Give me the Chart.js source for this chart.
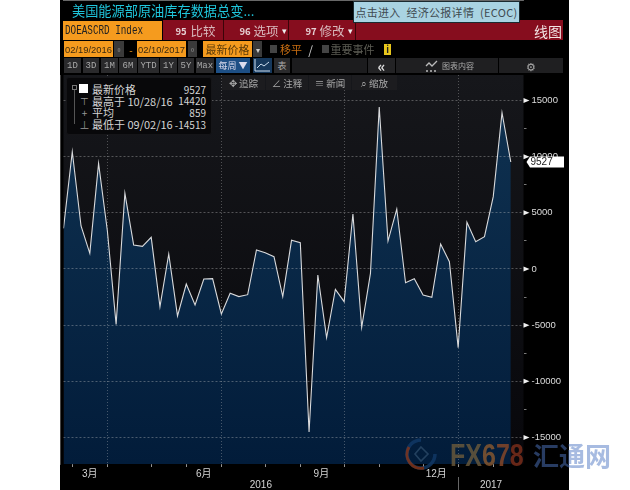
<!DOCTYPE html>
<html>
<head>
<meta charset="utf-8">
<title>DOEASCRD Index</title>
<script src="https://cdn.jsdelivr.net/npm/chart.js@4"></script>
<style>
  html, body { margin: 0; padding: 0; background: #fff; overflow: hidden; }
  #page { position: relative; width: 630px; height: 490px; overflow: hidden; font-family: "Noto Sans CJK SC", "Liberation Sans", sans-serif; }
  #frame { position: absolute; left: 60px; top: 0; width: 509px; height: 490px; background: #000; }
  .b { position: absolute; white-space: nowrap; box-sizing: border-box; display: flex; align-items: center; justify-content: center; }
  .mark { position: absolute; font-weight: bold; font-family: "Liberation Sans", sans-serif; white-space: nowrap; }
</style>
</head>
<body>
<div id="page">
  <div id="frame"></div>
  <canvas id="chart" width="509" height="490" style="position:absolute;left:60px;top:0"></canvas>
  <div id="chrome"></div>
  <svg style="position:absolute;left:404px;top:436px;opacity:.8" width="36" height="36" viewBox="0 0 36 36">
    <path d="M31 18a14 14 0 1 1-14-14" fill="none" stroke="#123a68" stroke-width="3.5"/>
    <path d="M5 11a14 14 0 0 0 15 21" fill="none" stroke="#8a3a20" stroke-width="3"/>
    <path d="M17 11l7 7-7 7-6-7z" fill="none" stroke="#2c4a68" stroke-width="1.6"/>
  </svg>
  <div class="mark" style="left:450px;top:437px;font-size:25px;opacity:.8;transform:scaleY(1.25);transform-origin:top left">
    <span style="color:#6d5c3c">F</span><span style="color:#6d5c3c">X</span><span style="color:#8c5a30">6</span><span style="color:#8c4a28">7</span><span style="color:#80301c">8</span>
  </div>
  <div class="mark" style="left:533px;top:436px;font-size:26px;color:rgba(80,120,195,.5);font-family:'Noto Sans CJK SC'">汇通网</div>
</div>
<script>
// Weekly change, 02/19/2016 to 02/10/2017
const weeklyChange = [
  3620, 10445, 3830, 1395, 9400, 3400, -4930, 6740, 2135, 2020,
  2820, -3350, 1335, -4180, -1335, -3205, -890, -860, -4006, -2165,
  -2460, -2285, 1690, 1450, 1100, -2460, 2555, 2340, -14513, -534,
  -6110, -1810, -2910, 4896, -5190, -385, 14420, 2490, 5340, -1220,
  -860, -2315, -2520, 2225, 650, -7000, 4155, 2430, 2875, 6440,
  13910, 9527
];
const yMajor = [15000, 10000, 5000, 0, -5000, -10000, -15000];
const yMinor = [12500, 7500, 2500, -2500, -7500, -12500];
const monthWeeks = [1, 5, 10, 14, 18, 23, 27, 32, 36, 41, 45, 49];
const quarterWeeks = [5, 18, 32, 45];
const monthLabels = { 3: '3月', 16: '6月', 29.4: '9月', 42.5: '12月' };
const yearLabels = { 22.5: '2016', 48.75: '2017' };
const legendRows = [
  ['最新价格', '9527'],
  ['最高于 10/28/16', '14420'],
  ['平均', '859'],
  ['最低于 09/02/16', '-14513']
];

const chrome = document.getElementById('chrome');
function box(x, y, w, h, bg, text, css) {
  const d = document.createElement('div');
  d.className = 'b';
  d.style.cssText = `left:${x}px;top:${y}px;width:${w}px;height:${h}px;background:${bg};font-size:10px;color:#ccc;` + (css || '');
  d.textContent = text || '';
  chrome.appendChild(d);
  return d;
}

// terminal toolbar rows
box(72, 0, 190, 20, 'transparent', '美国能源部原油库存数据总变...', 'font-size:13.2px;color:#1fc6dc;justify-content:flex-start;font-family:"Noto Sans CJK SC"');
box(163, 20, 400, 20, '#860d1e', '');
box(63, 21, 99, 19, '#f59b1e', '');
box(65, 21, 90, 19, 'transparent', 'DOEASCRD Index', 'color:#222;font-family:"Liberation Mono",monospace;font-size:9.3px;justify-content:flex-start;transform:scaleY(1.3)');
[[175, '95', 190, '比较', 223, ''], [239, '96', 253, '选项', 288, '▾'], [305, '97', 319, '修改', 355, '▾']].forEach(m => {
  box(m[0], 21, 12, 19, 'transparent', m[1], 'font-size:9.5px;font-weight:bold;color:#e6d0d4');
  box(m[2], 21, 26, 19, 'transparent', m[3], 'font-size:12.5px;color:#d8b8bc');
  if (m[5]) box(m[2] + 27, 21, 8, 19, 'transparent', m[5], 'font-size:9px;color:#eee');
  box(m[4], 20, 1, 20, '#3a0408', '');
});
box(533, 21, 30, 19, 'transparent', '线图', 'font-size:14px;color:#f2e4e4');

box(64, 41, 49, 16, '#f59b1e', '02/19/2016', 'color:#3a2a10;font-size:9.4px;font-family:"Liberation Sans"');
box(114, 41, 10, 16, '#3a3a3a', '▫', 'font-size:8px');
box(126, 41, 10, 16, 'transparent', '-', 'color:#f59b1e');
box(137, 41, 49, 16, '#f59b1e', '02/10/2017', 'color:#3a2a10;font-size:9.4px;font-family:"Liberation Sans"');
box(188, 41, 9, 16, '#3a3a3a', '▫', 'font-size:8px');
box(203, 41, 49, 16, '#f59b1e', '最新价格', 'color:#5a3a08;font-size:11px');
box(253, 41, 9, 16, '#3a3a3a', '▾', 'font-size:8px');
box(270, 45, 7, 8, '#444', '');
box(279, 41, 24, 16, 'transparent', '移平', 'color:#c96e12;font-size:11px');
box(306, 41, 9, 16, 'transparent', '/', 'color:#ccc;font-size:12px');
box(322, 45, 7, 8, '#444', '');
box(330, 41, 45, 16, 'transparent', '重要事件', 'color:#5c5c54;font-size:11px');
box(384, 44, 7, 11, '#e8c61c', 'i', 'color:#222;font-size:9px;font-weight:bold');

const ranges = [['1D', 64, 17], ['3D', 83, 16], ['1M', 101, 17], ['6M', 119, 18], ['YTD', 138, 21], ['1Y', 160, 17], ['5Y', 178, 16], ['Max', 196, 18]];
ranges.forEach(r => box(r[1], 58, r[2], 15, '#2a2a2c', r[0], 'font-size:9px;color:#aaa;font-family:"Liberation Mono",monospace'));
box(216, 58, 34, 15, '#1d4f85', '每周 ▼', 'color:#dde;font-size:9px');
box(253, 58, 19, 15, '#16385c', '').innerHTML = '<svg width="17" height="13"><path d="M1 0v12h15M3 9l4-4 3 2 5-4" fill="none" stroke="#cde" stroke-width="1"/></svg>';
box(274, 58, 16, 15, '#2a2a2c', '表', 'font-size:9px;color:#aaa');
box(292, 58, 75, 15, '#1c1c1e', '');
box(368, 58, 27, 15, '#232325', '«', 'font-size:15px;color:#ddd;font-weight:bold');
box(396, 58, 102, 15, '#1f1f21', '');
box(424, 59, 14, 13, 'transparent', '').innerHTML = '<svg width="13" height="12"><path d="M1 6l3-3 3 3 5-5M1 11h2M5 11h2M9 11h2" fill="none" stroke="#bbb" stroke-width="1.3"/></svg>';
box(442, 58, 32, 15, 'transparent', '图表内容', 'font-size:8px;color:#aaa');
box(499, 58, 64, 15, '#1f1f21', '⚙', 'font-size:11px;color:#aaa');

[['✥  追踪', 222, 43], ['∠  注释', 266, 42], ['≡  新闻', 309, 42], ['⌕  缩放', 352, 45]].forEach(t =>
  box(t[1], 75, t[2], 15, '#1c1c1f', t[0], 'font-size:9.5px;color:#a8a8a8'));

box(353, 1, 167, 22, '#a9d3e2', '点击进入 经济公报详情 (ECOC)', 'color:#3e4a50;font-size:11px;word-spacing:3px;letter-spacing:.3px;border:1px solid #1a2a30');

// legend panel
box(66, 77, 146, 58, '#08080a', '', 'border-radius:3px;border:1px solid #151518');
box(79, 84, 9, 9, '#fff', '');
const marks = ['', '⊤', '+', '⊥'];
legendRows.forEach((row, i) => {
  box(92, 83 + i * 11.7, 80, 12, 'transparent', row[0], 'justify-content:flex-start;font-size:11px;color:#d4d4d4');
  box(160, 83 + i * 11.7, 46, 12, 'transparent', row[1], 'justify-content:flex-end;font-size:10px;color:#d4d4d4');
  if (marks[i]) box(79, 83 + i * 11.7, 11, 12, 'transparent', marks[i], 'font-size:10px;color:#999');
});
box(72, 85, 5, 5, 'transparent', '', 'border:1px solid #777');
box(74, 90, 1, 34, '#555', '');

// separator under the axis between 2016 and 2017
box(458, 477, 1, 13, '#666', '');

const plotBack = {
  id: 'plotBack',
  beforeDraw(c) {
    const a = c.chartArea, g = c.ctx.createLinearGradient(0, a.top, 0, a.bottom);
    g.addColorStop(0, '#16171b');
    g.addColorStop(1, '#07070b');
    c.ctx.fillStyle = g;
    c.ctx.fillRect(a.left, a.top, a.right - a.left, a.bottom - a.top);
  },
  afterDraw(c) {
    const y = c.scales.y, ctx = c.ctx, right = c.chartArea.right;
    ctx.fillStyle = '#f0f0f0';
    yMajor.forEach(v => {
      const p = y.getPixelForValue(v);
      ctx.beginPath();
      ctx.moveTo(right, p - 2.5);
      ctx.lineTo(right + 6, p);
      ctx.lineTo(right, p + 2.5);
      ctx.fill();
    });
    // last value flag
    const last = weeklyChange[weeklyChange.length - 1], p = y.getPixelForValue(last);
    ctx.fillStyle = '#fff';
    ctx.beginPath();
    ctx.moveTo(right + 3, p);
    ctx.lineTo(right + 6.5, p - 5.5);
    ctx.lineTo(right + 40.5, p - 5.5);
    ctx.lineTo(right + 40.5, p + 5.5);
    ctx.lineTo(right + 6.5, p + 5.5);
    ctx.fill();
    ctx.fillStyle = '#222';
    ctx.font = '10px "Liberation Sans"';
    ctx.textAlign = 'left';
    ctx.textBaseline = 'middle';
    ctx.fillText(String(last), right + 7, p + 0.5);
  }
};

new Chart(document.getElementById('chart').getContext('2d'), {
  type: 'line',
  data: {
    datasets: [{
      data: weeklyChange.map((v, i) => ({ x: i, y: v })),
      borderColor: '#d9dadc',
      borderWidth: 1.1,
      pointRadius: 0,
      tension: 0,
      fill: 'start',
      backgroundColor(ctx) {
        const a = ctx.chart.chartArea;
        if (!a) return '#0c2a4a';
        const g = ctx.chart.ctx.createLinearGradient(0, a.top, 0, a.bottom);
        g.addColorStop(0, '#103352');
        g.addColorStop(1, '#021c3a');
        return g;
      }
    }]
  },
  options: {
    responsive: false,
    animation: false,
    layout: { padding: { left: 3.5, right: 0, top: 75, bottom: 0 } },
    plugins: { legend: { display: false }, tooltip: { enabled: false } },
    scales: {
      x: {
        type: 'linear',
        min: 0,
        max: 52.45,
        afterBuildTicks(s) {
          const extra = Object.keys(monthLabels).concat(Object.keys(yearLabels)).map(Number);
          s.ticks = monthWeeks.concat(extra).map(v => ({ value: v }));
        },
        afterFit(s) { s.height = 26; },
        border: { color: '#d0d0d0', width: 1.2, dash: [1, 2] },
        grid: {
          z: 1,
          lineWidth: 0.8,
          tickLength: 3,
          color: c => quarterWeeks.includes(c.tick && c.tick.value) ? 'rgba(205,205,205,.42)' : 'transparent',
          tickColor: c => monthWeeks.includes(c.tick && c.tick.value) ? '#bbb' : 'transparent'
        },
        ticks: {
          autoSkip: false,
          maxRotation: 0,
          padding: 1,
          color: '#d4d4d4',
          font: { size: 10, family: '"Liberation Sans","Noto Sans CJK SC"', lineHeight: 1.15 },
          callback(v) {
            if (monthLabels[v]) return monthLabels[v];
            if (yearLabels[v]) return ['', yearLabels[v]];
            return '';
          }
        }
      },
      y: {
        position: 'right',
        min: -17360,
        max: 17270,
        afterBuildTicks(s) {
          s.ticks = yMajor.concat(yMinor).map(v => ({ value: v }));
        },
        afterFit(s) { s.width = 45.5; },
        border: { color: '#8a8a8a', width: 1, dash: [2, 2] },
        grid: {
          z: 1,
          lineWidth: 0.8,
          tickLength: 3,
          color: c => yMajor.includes(c.tick && c.tick.value) ? 'rgba(205,205,205,.45)' : 'transparent',
          tickColor: '#999'
        },
        ticks: {
          padding: 5,
          color: '#dcdcdc',
          font: { size: 9.5, family: '"Liberation Sans"' },
          callback: v => yMajor.includes(v) ? String(v) : ''
        }
      }
    }
  },
  plugins: [plotBack]
});
</script>
</body>
</html>
